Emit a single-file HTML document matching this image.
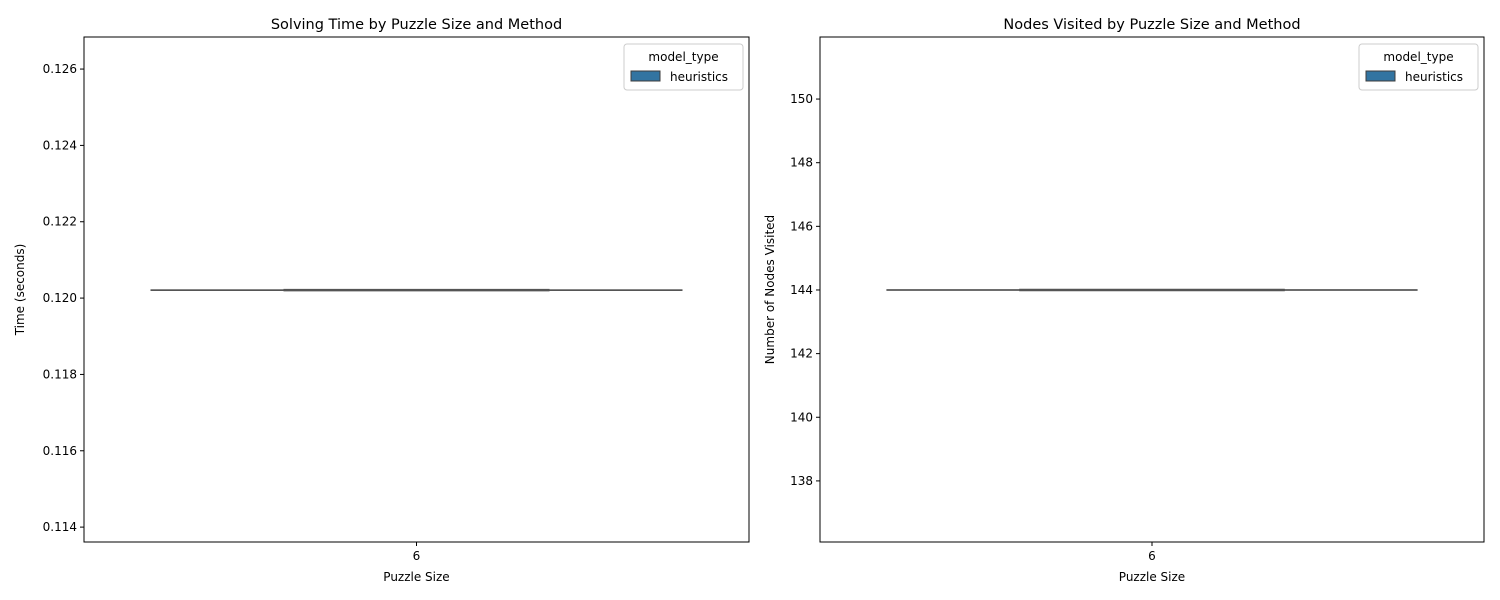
<!DOCTYPE html>
<html><head><meta charset="utf-8"><style>body{margin:0;background:#fff}svg{display:block;font-family:"DejaVu Sans","Liberation Sans",sans-serif}</style></head>
<body>
<svg id="c" width="1500" height="600"></svg>
<script>
const categories = ["6"];
const timeValues = [0.12021];
const nodeValues = [144];
const timeTicks = [0.114,0.116,0.118,0.120,0.122,0.124,0.126];
const nodeTicks = [138,140,142,144,146,148,150];
const svg = document.getElementById('c');
const NS='http://www.w3.org/2000/svg';
function el(t,a,p){const e=document.createElementNS(NS,t);for(const k in a)e.setAttribute(k,a[k]);(p||svg).appendChild(e);return e;}
function panel(x0,x1,y0,y1,dmin,dmax,ticks,fmt,vals,title,ylabel,nm){
  const g=el('g',{});
  
  
  const ys=v=>y1-(v-dmin)/(dmax-dmin)*(y1-y0);
  const band=(x1-x0)/categories.length;
  const xs=i=>x0+band*(i+0.5);
  categories.forEach((c,i)=>{
    const cx=xs(i), y=ys(vals[i]);
    const w=el('line',{x1:cx-band*0.4,x2:cx+band*0.4,y1:y,y2:y,stroke:'#3d3d3d','stroke-width':1.5},g);
    
    
    const m=el('line',{x1:cx-band*0.2,x2:cx+band*0.2,y1:y,y2:y,stroke:'#555','stroke-width':2.5},g);
    
    
    el('line',{x1:cx,x2:cx,y1:y1,y2:y1+4,stroke:'#000'},g);
    const t=el('text',{x:cx,y:y1+18,'text-anchor':'middle','font-size':12},g);t.textContent=c;
    
    
  });
  ticks.forEach(v=>{const y=ys(v);el('line',{x1:x0-4,x2:x0,y1:y,y2:y,stroke:'#000'},g);
    const t=el('text',{x:x0-7,y:y+4,'text-anchor':'end','font-size':12},g);t.textContent=fmt(v);
    
    });
  el('rect',{x:x0,y:y0,width:x1-x0,height:y1-y0,fill:'none',stroke:'#000','stroke-width':1},g);
  const tt=el('text',{x:(x0+x1)/2,y:y0-8,'text-anchor':'middle','font-size':14.5},g);tt.textContent=title;
  
  
  const xl=el('text',{x:(x0+x1)/2,y:y1+39,'text-anchor':'middle','font-size':12},g);xl.textContent='Puzzle Size';
  
  
  const yx=x0-(nm==='time'?60:46);
  const yl=el('text',{x:yx,y:(y0+y1)/2,'text-anchor':'middle','font-size':12,transform:`rotate(-90 ${yx} ${(y0+y1)/2})`},g);yl.textContent=ylabel;
  
  
  const lg=el('g',{},g);
  
  
  const lx=x1-125;
  el('rect',{x:lx,y:44,width:119,height:46,rx:3,fill:'#fff',stroke:'#ccc'},lg);
  const lt=el('text',{x:lx+59.5,y:61,'text-anchor':'middle','font-size':12},lg);lt.textContent='model_type';
  el('rect',{x:lx+7,y:71,width:29,height:10,fill:'#3274a1',stroke:'#3d3d3d'},lg);
  const le=el('text',{x:lx+46,y:81,'font-size':12},lg);le.textContent='heuristics';
  
  
}
panel(84,749,37,542,0.11361,0.12684,timeTicks,v=>v.toFixed(3),timeValues,'Solving Time by Puzzle Size and Method','Time (seconds)','time');
panel(820,1484,37,542,136.08,151.95,nodeTicks,v=>String(v),nodeValues,'Nodes Visited by Puzzle Size and Method','Number of Nodes Visited','nodes');
</script>
</body></html>
